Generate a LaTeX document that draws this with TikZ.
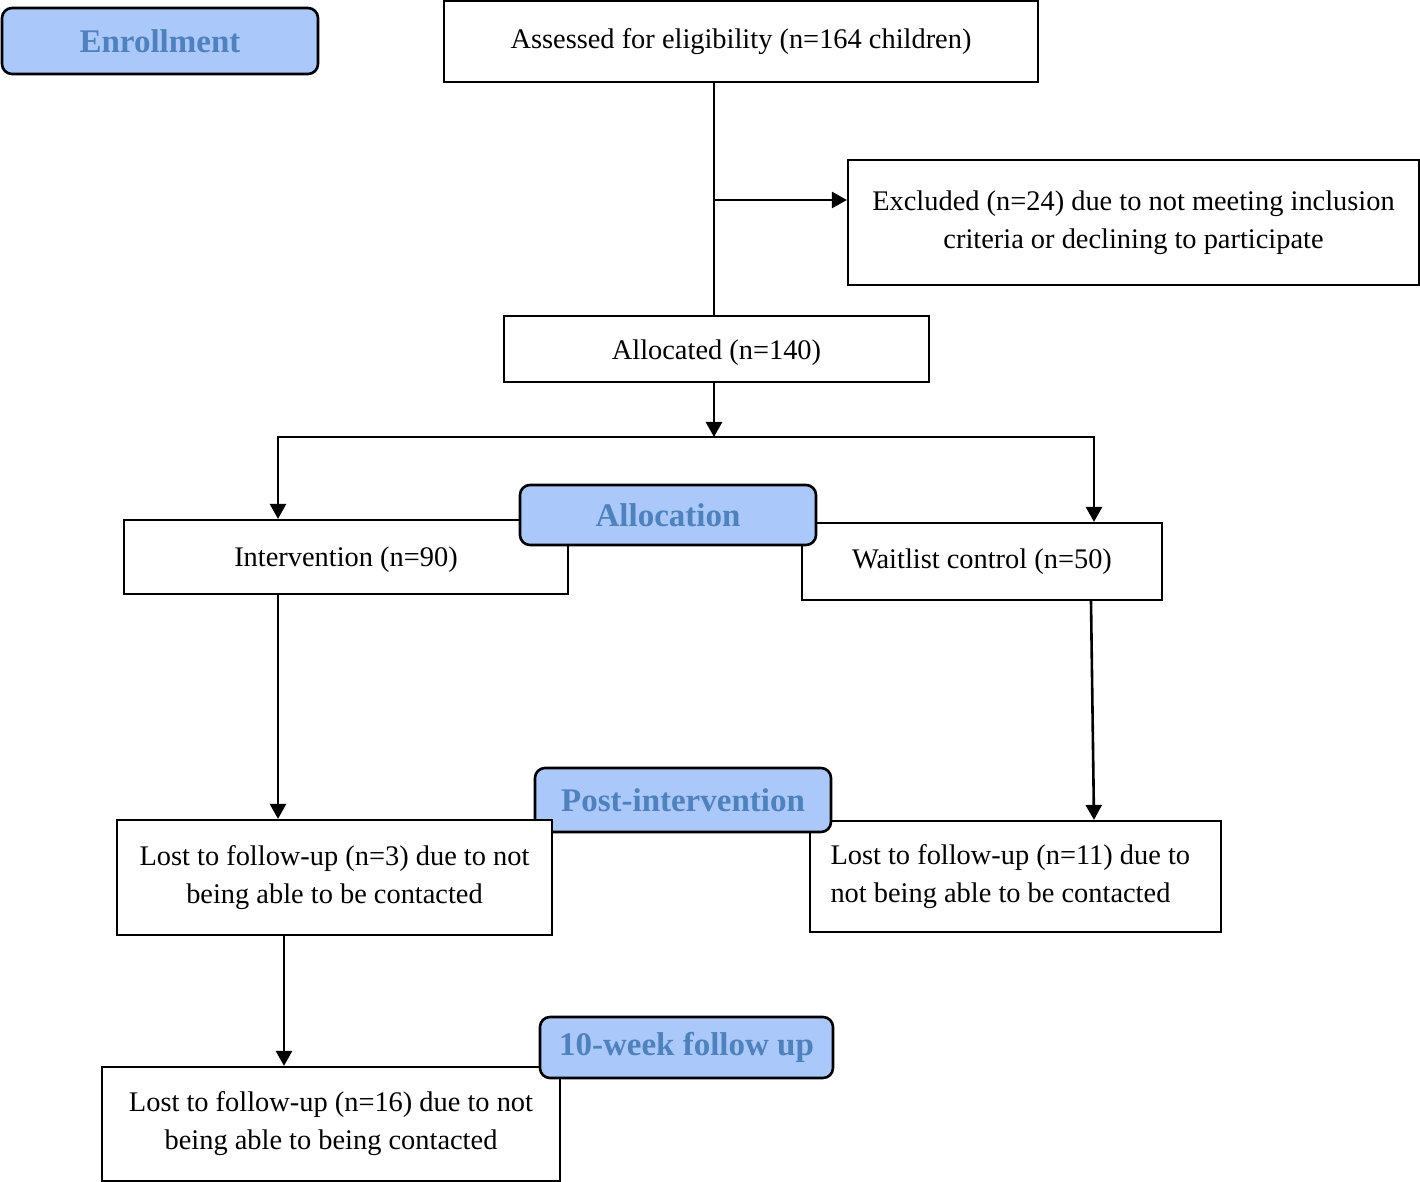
\documentclass[tikz,border=0pt]{standalone}
\usepackage{fontspec}
\setmainfont{Liberation Serif}
\usetikzlibrary{arrows.meta}
\definecolor{labfill}{RGB}{170,200,250}
\definecolor{labtext}{RGB}{79,129,189}
\begin{document}
\begin{tikzpicture}[x=0.5pt,y=-0.5pt,
  box/.style={draw, line width=1.1pt, fill=white, inner sep=0pt, align=center,
    font=\fontsize{14.2}{19}\selectfont},
  lab/.style={draw, line width=1.3pt, rounded corners=5pt, fill=labfill, text=labtext,
    inner sep=0pt, font=\bfseries\fontsize{16.5}{20}\selectfont},
  conn/.style={line width=1.3pt},
  arr/.style={line width=1.3pt, -{Triangle[length=7.5pt,width=8pt]}}]
\useasboundingbox (0,0) rectangle (1420,1182);

\node[lab, minimum width=158pt, minimum height=33pt] (enr) at (160,41) {Enrollment};
\node[box, minimum width=297pt, minimum height=40.5pt] (assess) at (741,41.5) {Assessed for eligibility (n=164 children)};
\node[box, minimum width=285.5pt, minimum height=62.5pt] (excl) at (1133.5,222.5) {Excluded (n=24) due to not meeting inclusion\\criteria or declining to participate};
\node[box, minimum width=212.5pt, minimum height=33pt, text height=14pt, text depth=3pt] (alloc) at (716.5,349) {Allocated (n=140)};
\node[box, minimum width=222pt, minimum height=37pt, text height=12pt, text depth=3pt] (interv) at (346,557) {Intervention (n=90)};
\node[box, minimum width=180pt, minimum height=38.5pt] (wait) at (982,561.5) {Waitlist control (n=50)};
\node[lab, minimum width=148pt, minimum height=30pt] (alab) at (668,515) {Allocation};
\node[box, minimum width=205.5pt, minimum height=55.5pt, align=flush left, text width=185pt] (lostR) at (1015.5,876.5) {Lost to follow-up (n=11) due to\\not being able to be contacted};
\node[lab, minimum width=148pt, minimum height=32pt] (plab) at (683,800) {Post-intervention};
\node[box, minimum width=217.5pt, minimum height=57.5pt] (lostL) at (334.5,877.5) {Lost to follow-up (n=3) due to not\\being able to be contacted};
\node[box, minimum width=229pt, minimum height=57pt] (lost16) at (331,1124) {Lost to follow-up (n=16) due to not\\being able to being contacted};
\node[lab, minimum width=146.5pt, minimum height=30.5pt] (wlab) at (686.5,1047.5) {10-week follow up};

\coordinate (t1) at (714,200);
\coordinate (split) at (714,437);
\coordinate (sl) at (278,437);
\coordinate (sr) at (1094,437);
\coordinate (w1) at (1091,0);
\coordinate (c284) at (284,0);

\draw[conn] (assess.south -| t1) -- (alloc.north -| t1);
\draw[arr] (t1) -- (excl.west |- t1);
\draw[arr] (alloc.south -| t1) -- (split);
\draw[conn, line cap=rect] (sl) -- (sr);
\draw[arr] (sl) -- (interv.north -| sl);
\draw[arr] (sr) -- (wait.north -| sr);
\draw[arr] (interv.south -| sl) -- (lostL.north -| sl);
\draw[arr] (wait.south -| w1) -- (lostR.north -| sr);
\draw[arr] (lostL.south -| c284) -- (lost16.north -| c284);
\end{tikzpicture}
\end{document}
